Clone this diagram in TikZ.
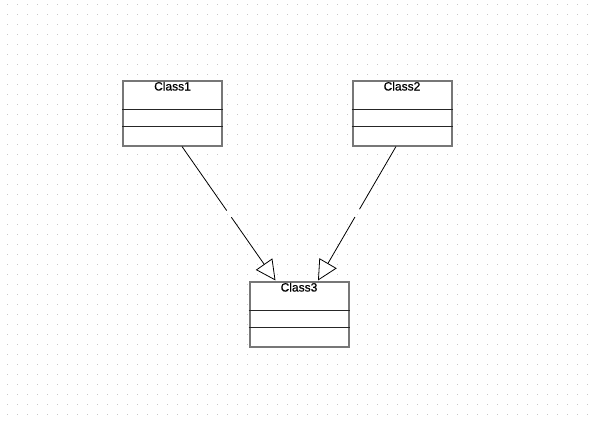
\documentclass[tikz,border=0pt]{standalone}
\usepackage{fontspec}
\setmainfont{Liberation Sans}
\newfontfamily\namefont{Liberation Sans}[FakeBold=0.6]
\usetikzlibrary{arrows.meta,calc}
\definecolor{boxgray}{HTML}{777777}
\definecolor{dotgray}{HTML}{C8C8C8}
\tikzset{
  classbox/.style={draw=boxgray,line width=2pt,fill=white,minimum width=99pt,minimum height=65pt,inner sep=0pt},
  classname/.style={font=\namefont\fontsize{12}{12}\selectfont,anchor=base,inner sep=0pt},
  divider/.style={draw=black!85,line width=1.1pt},
  realize/.style={line width=0.8pt,-{Triangle[open,length=20pt,width=20pt,fill=white]}}
}
\begin{document}
\begin{tikzpicture}[x=1pt,y=-1pt]
\useasboundingbox (0,0) rectangle (595,421);
\fill[white] (0,0) rectangle (595,421);
% dot grid
\foreach \x in {7,17,...,597} {
  \foreach \y in {4,14,...,420} \fill[dotgray] (\x-0.5,\y-0.5) rectangle (\x+0.5,\y+0.5);
}
% classes
\foreach \n/\x/\y/\txt in {c1/172.5/113/Class1,c2/402/113/Class2,c3/299/314/Class3} {
  \node[classbox] (\n) at (\x,\y) {};
  \node[classname] (\n t) at ($(\n.north)+(0,11)$) {\txt};
  \draw[divider] ($(\n.north west)+(0,30)$) -- ($(\n.north east)+(0,30)$);
  \draw[divider] ($(\n.north west)+(0,47)$) -- ($(\n.north east)+(0,47)$);
}
% connectors
\coordinate (a1) at ($(c1.south)+(9.5,0)$);
\coordinate (b1) at ($(c3.north)+(-23.5,0)$);
\coordinate (a2) at ($(c2.south)+(-6,0)$);
\coordinate (b2) at ($(c3.north)+(19,0)$);
\draw[line width=0.8pt] (a1) -- ($(a1)!0.478!(b1)$);
\draw[realize] ($(a1)!0.528!(b1)$) -- (b1);
\draw[line width=0.8pt] (a2) -- ($(a2)!0.468!(b2)$);
\draw[realize] ($(a2)!0.526!(b2)$) -- (b2);
\end{tikzpicture}
\end{document}
